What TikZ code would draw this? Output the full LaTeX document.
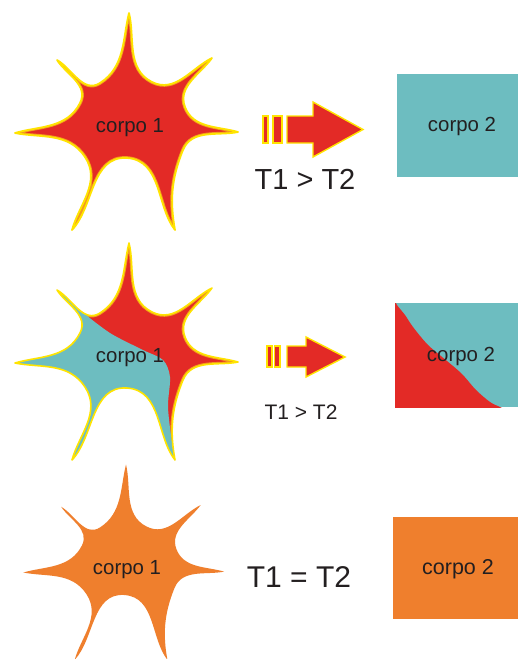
\documentclass[tikz,border=0pt]{standalone}
\usepackage{fontspec}
\setmainfont{Liberation Sans}
\definecolor{hotred}{HTML}{E32A26}
\definecolor{coolteal}{HTML}{6DBDC0}
\definecolor{eqorange}{HTML}{EF7F2D}
\definecolor{edgeyellow}{HTML}{FFE400}
\definecolor{edgeglow}{HTML}{F39A1E}
\definecolor{txt}{HTML}{231F20}
\newcommand{\mystarpath}{(0,-115)
  .. controls +(76:25) and +(-153.4:29) .. (23,-46)
  .. controls +(26.6:26) and +(153.9:23) .. (83,-70)
  .. controls +(125.9:20) and +(-110.6:22) .. (56,-21)
  .. controls +(69.4:23) and +(196.1:21) .. (109,4)
  .. controls +(168.1:20) and +(-67.8:23) .. (54,22)
  .. controls +(112.2:32) and +(259.7:28) .. (46,102)
  .. controls +(231.7:30) and +(3.8:35) .. (-2,30)
  .. controls +(183.8:36) and +(313.2:32) .. (-57,102)
  .. controls +(285.2:26) and +(56.6:30) .. (-44,29)
  .. controls +(236.6:30) and +(11.5:26) .. (-114,5)
  .. controls +(343.5:25) and +(117:29) .. (-49,-25)
  .. controls +(297:20) and +(57.4:17) .. (-72,-68)
  .. controls +(29.4:17) and +(147.2:20) .. (-29,-45)
  .. controls +(327.2:30) and +(104:27) .. cycle}
\tikzset{
  lbl/.style={anchor=base, text=txt, inner sep=0pt, font=\fontsize{20.4}{24}\selectfont},
  rel/.style={anchor=base, text=txt, inner sep=0pt},
  hotedge/.style={draw=edgeyellow, line width=1.8pt, line join=round},
  glowedge/.style={draw=edgeglow, line width=3.6pt, line join=round},
  arrowbody/.style={fill=hotred, draw=edgeyellow, line width=1.4pt, line join=miter}
}
\begin{document}
\begin{tikzpicture}[x=1pt,y=-1pt]
\useasboundingbox (0,0) rectangle (518,659);
\fill[white] (0,0) rectangle (518,659);
% ---- row 1 ----
\begin{scope}[shift={(129,128)}]
  \fill[hotred] \mystarpath;
  \begin{scope}
    \clip \mystarpath;
    \draw[glowedge] \mystarpath;
  \end{scope}
  \draw[hotedge] \mystarpath;
\end{scope}
\node[lbl] (c1a) at (130,132) {corpo 1};
\fill[arrowbody] (263,116) rectangle (268,143);
\fill[arrowbody] (273,116) rectangle (282,143);
\filldraw[arrowbody] (287,116) -- (313,116) -- (313,102) -- (363,129.5) -- (313,157) -- (313,143) -- (287,143) -- cycle;
\node[rel, font=\fontsize{29}{34}\selectfont] (t1) at (305,189) {T1 > T2};
\fill[coolteal] (397,74) rectangle (518,177);
\node[lbl] (c2a) at (462,131) {corpo 2};
% ---- row 2 ----
\begin{scope}[shift={(129,358)}]
  \begin{scope}
    \clip \mystarpath;
    \fill[hotred] (-150,-150) rectangle (150,150);
    \draw[glowedge] \mystarpath;
    \fill[coolteal] plot[smooth] coordinates {(-55,-56) (-49,-48) (-19,-25) (14,-8) (34,2) (41,19) (39,49) (43,85) (46,102) (48,130)}
      -- (-200,130) -- (-200,-200) -- (-100,-200) -- cycle;
  \end{scope}
  \draw[hotedge, line width=1.6pt] \mystarpath;
\end{scope}
\node[lbl] (c1b) at (130,362) {corpo 1};
\fill[arrowbody] (267,346) rectangle (272,367);
\fill[arrowbody] (274.5,346) rectangle (280,367);
\filldraw[arrowbody] (287,346) -- (306,346) -- (306,337) -- (345,357) -- (306,377) -- (306,367) -- (287,367) -- cycle;
\node[rel, font=\fontsize{21}{25}\selectfont] (t2) at (301,419) {T1 > T2};
\begin{scope}
  \clip (395,303) rectangle (518,407);
  \fill[coolteal] (395,303) rectangle (518,407);
  \fill[hotred] plot[smooth] coordinates {(394,298) (397,305) (405,315) (413,327) (428,345) (447,361) (462,374) (476,390) (490,402) (500,407) (506,410)}
    -- (390,411) -- (390,298) -- cycle;
\end{scope}
\node[lbl] (c2b) at (461,361) {corpo 2};
% ---- row 3 ----
\begin{scope}[shift={(126,568)}, scale=0.9]
  \fill[eqorange] \mystarpath;
\end{scope}
\node[lbl] (c1c) at (127,574) {corpo 1};
\node[rel, font=\fontsize{30}{36}\selectfont] (t3) at (299,587) {T1 = T2};
\fill[eqorange] (393,517) rectangle (518,619);
\node[lbl, font=\fontsize{21.5}{25}\selectfont] (c2c) at (458,574) {corpo 2};
\end{tikzpicture}
\end{document}
